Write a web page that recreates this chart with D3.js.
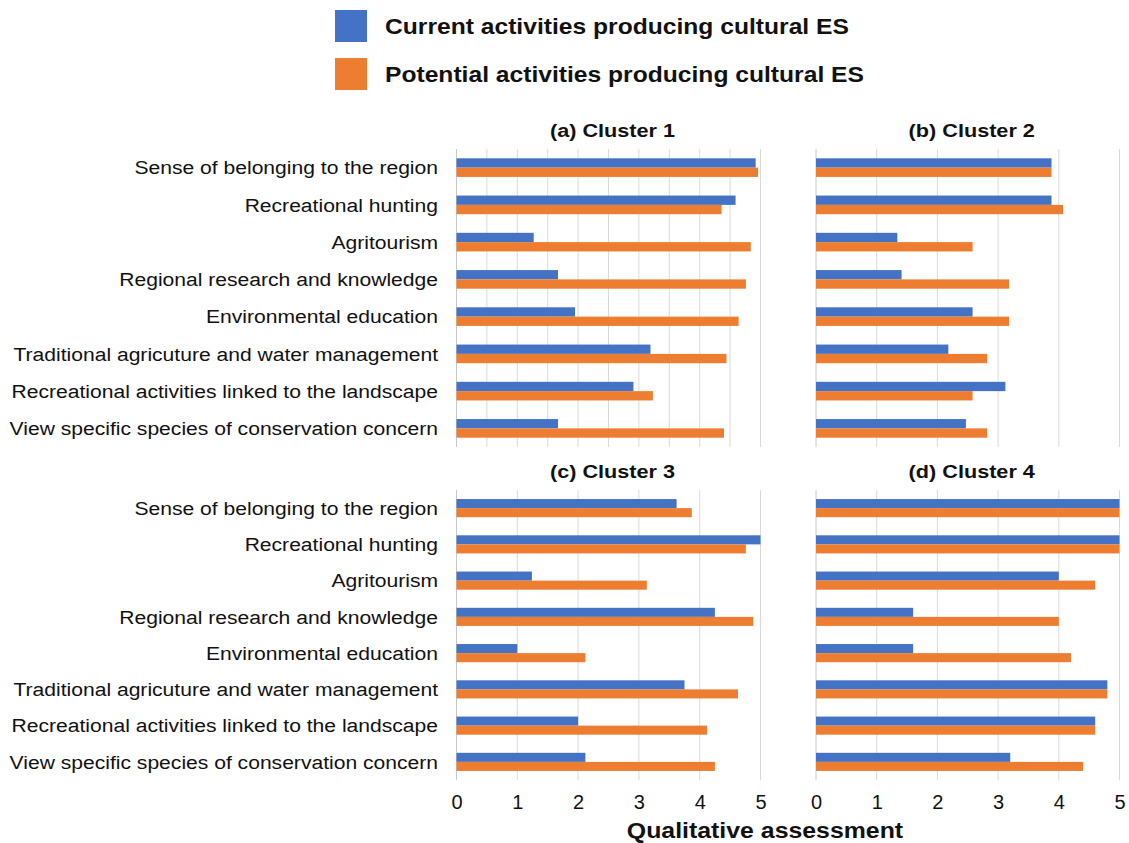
<!DOCTYPE html>
<html>
<head>
<meta charset="utf-8">
<script src="https://cdn.jsdelivr.net/npm/d3@7"></script>
<style>
  html, body { margin: 0; padding: 0; background: #fff; }
  svg { display: block; font-family: "Liberation Sans", Arial, sans-serif; }
</style>
</head>
<body>
<svg id="chart" width="1129" height="843"></svg>
<script>
// Activities (same order in every cluster panel)
const activities = [
  "Sense of belonging to the region",
  "Recreational hunting",
  "Agritourism",
  "Regional research and knowledge",
  "Environmental education",
  "Traditional agricuture and water management",
  "Recreational activities linked to the landscape",
  "View specific species of conservation concern"
];

const seriesNames = [
  "Current activities producing cultural ES",
  "Potential activities producing cultural ES"
];

const clusterTitles = ["(a) Cluster 1", "(b) Cluster 2", "(c) Cluster 3", "(d) Cluster 4"];

// Qualitative assessment scores (0-5) per cluster
const cluster1Current   = [4.92, 4.59, 1.27, 1.67, 1.95, 3.19, 2.91, 1.67];
const cluster1Potential = [4.96, 4.36, 4.84, 4.76, 4.64, 4.44, 3.23, 4.40];
const cluster2Current   = [3.88, 3.88, 1.34, 1.41, 2.58, 2.18, 3.12, 2.47];
const cluster2Potential = [3.88, 4.07, 2.58, 3.18, 3.18, 2.82, 2.58, 2.82];
const cluster3Current   = [3.62, 5.00, 1.24, 4.25, 1.00, 3.75, 2.00, 2.12];
const cluster3Potential = [3.87, 4.76, 3.13, 4.88, 2.12, 4.63, 4.12, 4.25];
const cluster4Current   = [5.00, 5.00, 4.00, 1.60, 1.60, 4.80, 4.60, 3.20];
const cluster4Potential = [5.00, 5.00, 4.60, 4.00, 4.20, 4.80, 4.60, 4.40];

const xTicks = [0, 1, 2, 3, 4, 5];
const axisTitle = "Qualitative assessment";

const colors = ["#4472C4", "#ED7D31"];

const svg = d3.select("#chart");

// Places a text whose glyphs are widened horizontally by factor sx around its anchor
function wideText(parent, x, y, str, opts) {
  const t = parent.append("text")
    .attr("transform", `translate(${x},${y}) scale(${opts.sx || 1},1)`)
    .attr("text-anchor", opts.anchor || "start")
    .attr("dominant-baseline", "central")
    .attr("font-size", opts.size)
    .attr("font-weight", opts.weight || "normal")
    .attr("fill", "#111")
    .text(str);
  return t;
}

// Panel geometry
const panels = [
  { title: clusterTitles[0], cur: cluster1Current, pot: cluster1Potential, x0: 456.5, x1: 760.5, y0: 149, y1: 447, grid: 0.5, labels: true,  ticks: false },
  { title: clusterTitles[1], cur: cluster2Current, pot: cluster2Potential, x0: 816,   x1: 1119.5, y0: 149, y1: 447, grid: 1,   labels: false, ticks: false },
  { title: clusterTitles[2], cur: cluster3Current, pot: cluster3Potential, x0: 456.5, x1: 760.5, y0: 490, y1: 780, grid: 1,   labels: true,  ticks: true },
  { title: clusterTitles[3], cur: cluster4Current, pot: cluster4Potential, x0: 816,   x1: 1119.5, y0: 490, y1: 780, grid: 1,   labels: false, ticks: true }
];

panels.forEach(p => {
  const g = svg.append("g");
  const x = d3.scaleLinear().domain([0, 5]).range([p.x0, p.x1]);
  const y = d3.scaleBand().domain(activities).range([p.y0, p.y1])
    .paddingInner(0.5).paddingOuter(0.25);
  const ySub = d3.scaleBand().domain([0, 1]).range([0, y.bandwidth()]);

  // vertical gridlines
  const gridVals = d3.range(0, 5 + 1e-9, p.grid);
  g.append("g").selectAll("line").data(gridVals).join("line")
    .attr("x1", d => x(d)).attr("x2", d => x(d))
    .attr("y1", p.y0).attr("y2", p.y1)
    .attr("stroke", (d, i) => i === 0 ? "#c8c8c8" : "#dadada")
    .attr("stroke-width", 1);

  // bars
  const rows = activities.map((a, i) => ({ a, vals: [p.cur[i], p.pot[i]] }));
  const rowG = g.append("g").selectAll("g").data(rows).join("g")
    .attr("transform", d => `translate(0,${y(d.a)})`);
  rowG.selectAll("rect").data(d => d.vals).join("rect")
    .attr("x", x(0))
    .attr("y", (d, i) => ySub(i))
    .attr("width", d => x(d) - x(0))
    .attr("height", ySub.bandwidth())
    .attr("fill", (d, i) => colors[i]);

  // category labels
  if (p.labels) {
    const lg = g.append("g");
    activities.forEach(a => {
      wideText(lg, 438, y(a) + y.bandwidth() / 2, a, { size: 19, sx: 1.11, anchor: "end" });
    });
  }

  // panel title
  wideText(g, (p.x0 + p.x1) / 2 + 4, p.y0 - 19, p.title,
    { size: 19, sx: 1.14, anchor: "middle", weight: "bold" });

  // x tick labels
  if (p.ticks) {
    const axis = d3.axisBottom(x).tickValues(xTicks).tickFormat(d3.format("d"))
      .tickSize(0).tickPadding(0);
    const ag = g.append("g").attr("transform", `translate(0,${p.y1 + 15})`).call(axis);
    ag.select(".domain").remove();
    ag.selectAll("text")
      .attr("font-size", 20)
      .attr("font-family", "Liberation Sans, Arial, sans-serif")
      .attr("fill", "#111");
  }
});

// axis title
wideText(svg, 765, 831, axisTitle, { size: 22, sx: 1.13, anchor: "middle", weight: "bold" });

// legend
const legend = svg.append("g");
seriesNames.forEach((s, i) => {
  const cy = 26 + i * 48;
  legend.append("rect")
    .attr("x", 335).attr("y", cy - 16)
    .attr("width", 32).attr("height", 32)
    .attr("fill", colors[i]);
  wideText(legend, 385, cy, s, { size: 22, sx: 1.12, weight: "bold" });
});
</script>
</body>
</html>
